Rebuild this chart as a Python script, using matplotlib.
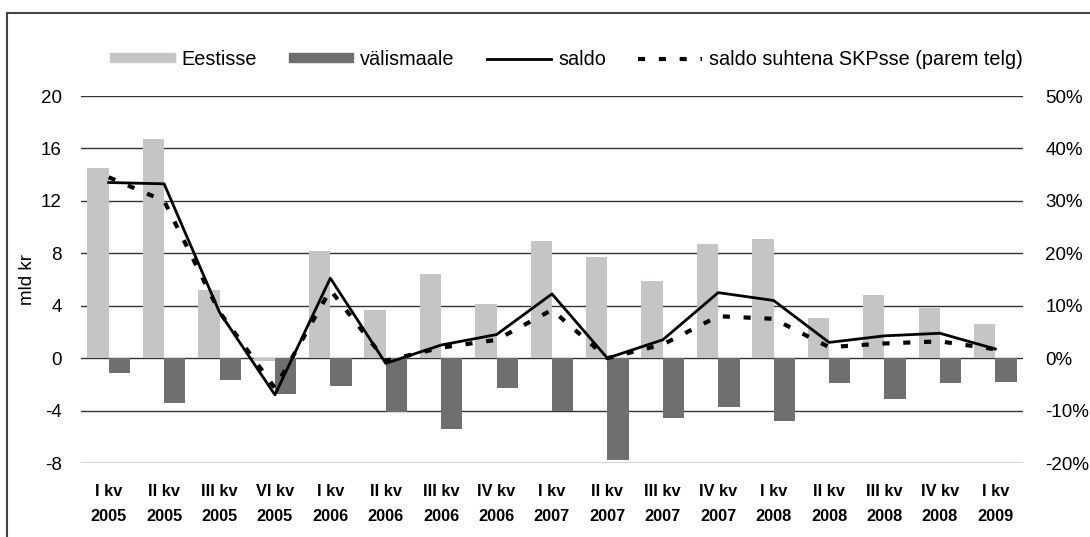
import matplotlib
matplotlib.use('Agg')
import matplotlib.pyplot as plt
import numpy as np
from matplotlib.lines import Line2D
from matplotlib.patches import Patch

plt.rcParams['font.family'] = ['Liberation Sans', 'DejaVu Sans']
plt.rcParams['axes.unicode_minus'] = False

# quarters
quarters = ['I kv\n2005', 'II kv\n2005', 'III kv\n2005', 'VI kv\n2005',
            'I kv\n2006', 'II kv\n2006', 'III kv\n2006', 'IV kv\n2006',
            'I kv\n2007', 'II kv\n2007', 'III kv\n2007', 'IV kv\n2007',
            'I kv\n2008', 'II kv\n2008', 'III kv\n2008', 'IV kv\n2008',
            'I kv\n2009']

# mld kr
eestisse = [14.5, 16.7, 5.2, -0.2, 8.2, 3.7, 6.4, 4.1, 8.9, 7.7, 5.9, 8.7, 9.1, 3.1, 4.8, 3.8, 2.6]
valismaale = [-1.1, -3.4, -1.7, -2.7, -2.1, -4.1, -5.4, -2.3, -4.0, -7.8, -4.6, -3.7, -4.8, -1.9, -3.1, -1.9, -1.8]
saldo = [13.4, 13.3, 3.5, -2.8, 6.1, -0.4, 1.0, 1.8, 4.9, 0.0, 1.4, 5.0, 4.4, 1.2, 1.7, 1.9, 0.7]
# percent of GDP (right axis)
saldo_skp = [34.5, 30.0, 8.8, -5.7, 13.0, -0.5, 2.0, 3.5, 9.2, 0.0, 2.6, 8.0, 7.5, 2.1, 2.8, 3.2, 1.7]

left_ticks = [-8, -4, 0, 4, 8, 12, 16, 20]
right_ticks = [-20, -10, 0, 10, 20, 30, 40, 50]

light = '#c4c5c7'
dark = '#6f6f70'
grid_col = '#333333'

fig = plt.figure(figsize=(10.9, 5.37), dpi=100)
ax = fig.add_axes([0.0743, 0.1378, 0.8642, 0.6834])
ax2 = ax.twinx()

x = np.arange(len(quarters))
w = 0.385
ax.bar(x - w / 2, eestisse, w, color=light, zorder=2)
ax.bar(x + w / 2, valismaale, w, color=dark, zorder=2)
ax.plot(x, saldo, color='black', lw=2, zorder=3)
ax2.plot(x, saldo_skp, color='black', lw=3, linestyle=(0, (1.7, 3.3)), zorder=3)

ax.set_xlim(-0.5, len(quarters) - 0.5)
ax.set_ylim(-8, 20)
ax2.set_ylim(-20, 50)
ax.set_yticks(left_ticks)
ax.set_yticklabels([str(v) for v in left_ticks])
ax2.set_yticks(right_ticks)
ax2.set_yticklabels([f'{v}%' for v in right_ticks])

for v in left_ticks:
    ax.axhline(v, color=grid_col, lw=1, zorder=1)

ax.set_xticks(x)
ax.set_xticklabels(quarters, fontweight='bold', fontsize=11.8, linespacing=1.85)
ax.tick_params(axis='x', length=0, pad=15)
ax.tick_params(axis='y', length=0, pad=14, labelsize=13.5)
ax2.tick_params(axis='y', length=0, pad=16, labelsize=13.5)
ax.set_ylabel('mld kr', fontsize=13.5, labelpad=3)

for a in (ax, ax2):
    for s in a.spines.values():
        s.set_visible(False)

handles = [Patch(color=light), Patch(color=dark),
           Line2D([], [], color='black', lw=2),
           Line2D([], [], color='black', lw=3, linestyle=(0, (1.7, 3.3)))]
labels = ['Eestisse', 'välismaale', 'saldo', 'saldo suhtena SKPsse (parem telg)']
fig.legend(handles, labels, loc='center left', bbox_to_anchor=(0.101, 0.89), ncol=4,
           frameon=False, fontsize=14.3, handlelength=3.25, handleheight=0.35,
           handletextpad=0.35, columnspacing=1.6, borderpad=0, borderaxespad=0)

# frame around the figure (top and left edges)
fig.add_artist(Line2D([0.0065, 1.0], [0.9767, 0.9767], color='#444444', lw=1.5, transform=fig.transFigure))
fig.add_artist(Line2D([0.0065, 0.0065], [0.0, 0.9767], color='#444444', lw=1.5, transform=fig.transFigure))

plt.savefig('out.png', dpi=100)
